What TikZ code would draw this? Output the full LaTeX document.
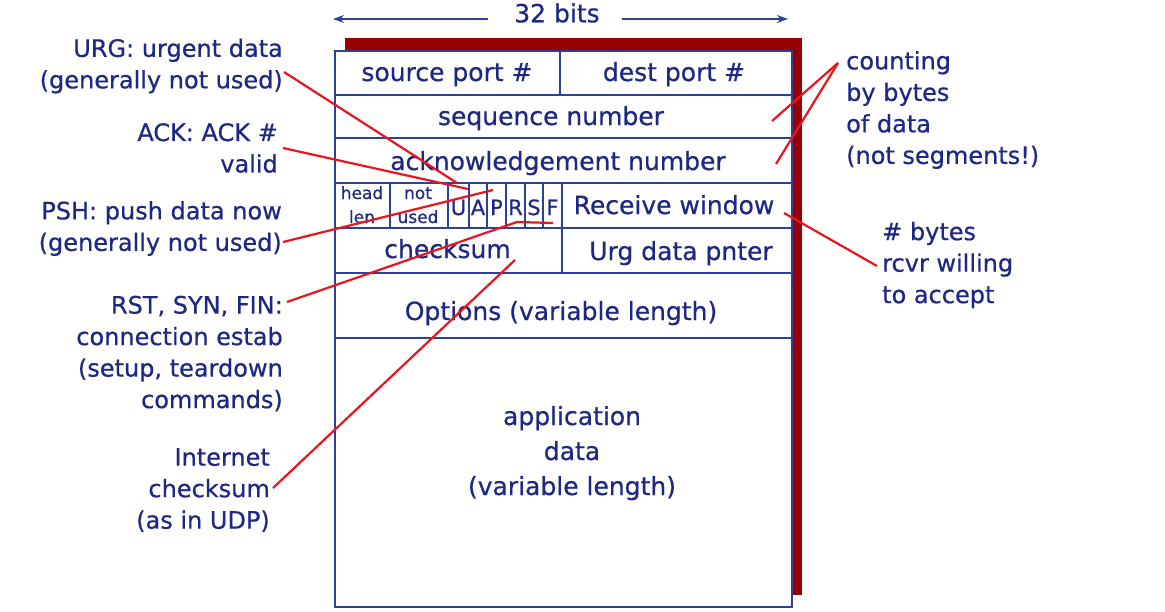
\documentclass[tikz,border=0pt]{standalone}
\usepackage{fontspec}
\setmainfont[RawFeature={embolden=0.6}]{DejaVu Sans}
\usetikzlibrary{arrows.meta,positioning,calc}
\definecolor{hdrblue}{RGB}{30,40,130}
\definecolor{hdrline}{RGB}{45,65,155}
\definecolor{hdrred}{RGB}{235,20,30}
\definecolor{hdrshadow}{RGB}{150,0,0}

\begin{document}
\begin{tikzpicture}[x=1pt,y=-1pt,
    field/.style={text=hdrblue, font=\fontsize{25}{31.5}\selectfont, inner sep=0pt, anchor=base},
    flagbit/.style={text=hdrblue, font=\fontsize{21}{24}\selectfont, inner sep=0pt, anchor=base},
    tiny field/.style={text=hdrblue, font=\fontsize{17}{24}\selectfont, inner sep=0pt, anchor=base},
    note/.style={text=hdrblue, font=\fontsize{24}{31.5}\selectfont, inner sep=0pt},
    grid/.style={draw=hdrline, line width=2.4pt},
    pointer/.style={draw=hdrred, line width=2.2pt, line join=round},
    dimarrow/.style={draw=hdrline, line width=2pt, -{Stealth[length=11pt,width=8pt]}}]
    \useasboundingbox (0,0) rectangle (1165,611);

    % segment box with its shadow
    \fill[hdrshadow] (345,38) rectangle (802,595);
    \filldraw[fill=white, grid] (335,51) rectangle (792,607);
    \foreach \y in {95,138,183,228,273,338}
      \draw[grid] (335,\y) -- (792,\y);
    \draw[grid] (560,51) -- (560,95);
    \foreach \x in {390,448,469,487,506,525,543,562}
      \draw[grid] (\x,183) -- (\x,228);
    \draw[grid] (562,228) -- (562,273);

    % width marker
    \node[note, font=\fontsize{25}{30}\selectfont] (bits) at (557,13) {32 bits};
    \coordinate (bitsL) at (333,19);
    \coordinate (bitsR) at (788,19);
    \draw[dimarrow] ([xshift=-26pt,yshift=-6pt]bits.west) -- (bitsL);
    \draw[dimarrow] ([xshift=22pt,yshift=-6pt]bits.east) -- (bitsR);

    % header fields
    \node[field] (srcport) at (447,81) {source port \#};
    \node[field] (dstport) at (674,81) {dest port \#};
    \node[field] (seqnum) at (551,125) {sequence number};
    \node[field] (acknum) at (558,170) {acknowledgement number};
    \node[tiny field] (hlen) at (362,199) {head};
    \node[tiny field] (hlen2) at (362,223) {len};
    \node[tiny field] (unused) at (418,199) {not};
    \node[tiny field] (unused2) at (418,223) {used};
    \node[flagbit] (fU) at (458.5,215) {U};
    \node[flagbit] (fA) at (478,215) {A};
    \node[flagbit] (fP) at (496.5,215) {P};
    \node[flagbit] (fR) at (515.5,215) {R};
    \node[flagbit] (fS) at (534,215) {S};
    \node[flagbit] (fF) at (552.5,215) {F};
    \node[field] (rwin) at (674,214) {Receive window};
    \node[field] (csum) at (447.5,258) {checksum};
    \node[field] (urgptr) at (681,260) {Urg data pnter};
    \node[field] (opts) at (561,320) {Options (variable length)};
    \node[field] (appdata) at (572,425) {application};
    \node[field] (appdata2) at (572,460) {data};
    \node[field] (appdata3) at (572,495) {(variable length)};

    % notes left
    \node[note, align=right, anchor=east] (urg) at (283,66) {URG: urgent data\\(generally not used)};
    \node[note, align=right, anchor=east] (ack) at (278,148) {ACK: ACK \#\\valid};
    \node[note, align=right, anchor=east] (psh) at (282,228.5) {PSH: push data now\\(generally not used)};
    \node[note, align=right, anchor=east] (rst) at (283,353.5) {RST, SYN, FIN:\\connection estab\\(setup, teardown\\commands)};
    \node[note, align=right, anchor=east] (inet) at (270,490) {Internet\\checksum\\(as in UDP)};

    % notes right
    \node[note, align=left, anchor=west] (cnt) at (846,110) {counting\\by bytes\\of data\\(not segments!)};
    \node[note, align=left, anchor=west] (wnd) at (882,265) {\# bytes\\rcvr willing\\to accept};

    % pointer ends inside the header
    \coordinate (urgpt) at (457,183);
    \coordinate (ackpt) at (468,189);
    \coordinate (pshpt) at (493,190);
    \coordinate (rstbend) at (517,222);
    \coordinate (rstpt) at (553,223);
    \coordinate (cspt) at (515,260);
    \coordinate (seqpt) at (772,121);
    \coordinate (ackspt) at (776,164);
    \coordinate (rwpt) at (784,213);

    % pointers
    \draw[pointer] ([xshift=1pt,yshift=-6pt]urg.east) -- (urgpt);
    \draw[pointer] ([xshift=5pt]ack.east) -- (ackpt);
    \draw[pointer] ([xshift=1pt,yshift=-13.5pt]psh.east) -- (pshpt);
    \draw[pointer] ([xshift=4pt,yshift=51.5pt]rst.east) -- (rstbend) -- (rstpt);
    \draw[pointer] ([xshift=3pt,yshift=2pt]inet.east) -- (cspt);
    \draw[pointer] ([xshift=-8pt,yshift=47pt]cnt.west) -- (seqpt);
    \draw[pointer] ([xshift=-8pt,yshift=47pt]cnt.west) -- (ackspt);
    \draw[pointer] ([xshift=-5pt,yshift=-1pt]wnd.west) -- (rwpt);
\end{tikzpicture}
\end{document}
